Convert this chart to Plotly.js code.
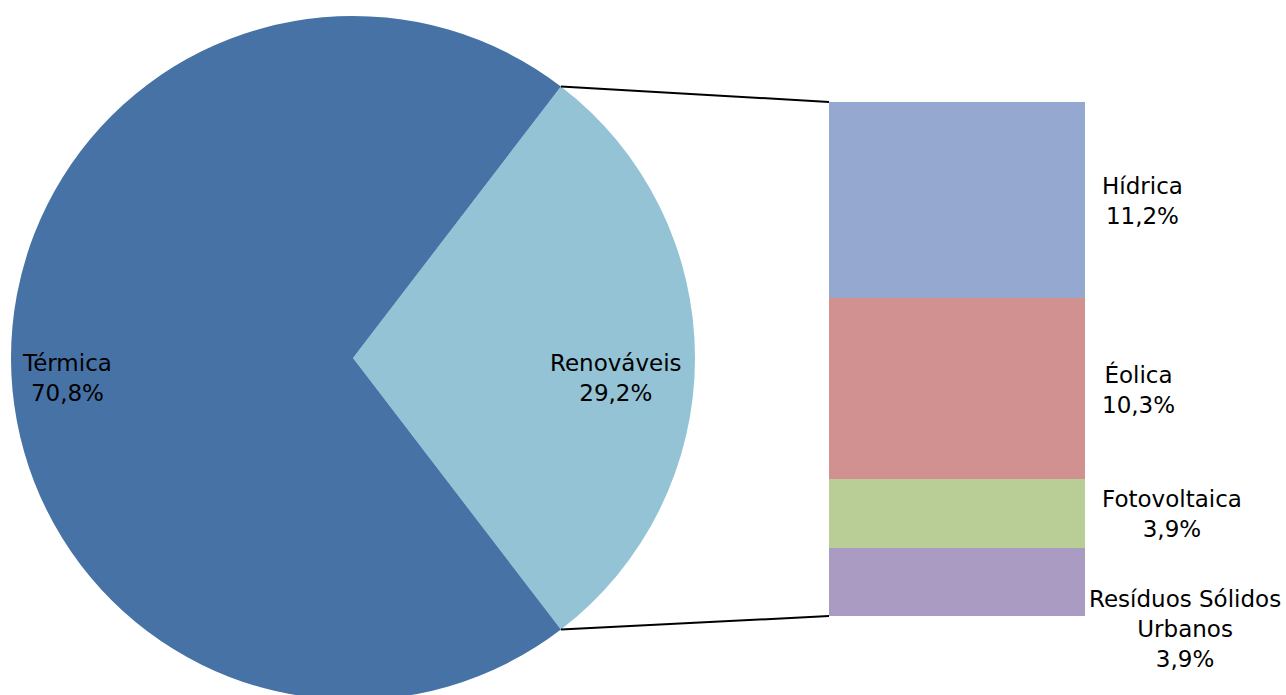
<!DOCTYPE html>
<html><head><meta charset="utf-8">
<script src="https://cdn.plot.ly/plotly-3.0.1.min.js"></script>
<style>html,body{margin:0;padding:0;overflow:hidden;background:#fff;}#chart{width:1286px;height:700px;}</style>
</head><body><div id="chart"></div>
<script>
// Data
const pieLabels = ['Renováveis', 'Térmica'];
const pieValues = [29.2, 70.8];
const pieColors = ['#93C3D5', '#4672A6'];
const pieText = ['Renováveis<br>29,2%', 'Térmica<br>70,8%'];

const barLabels = ['Resíduos Sólidos Urbanos', 'Fotovoltaica', 'Éolica', 'Hídrica']; // bottom to top
const barValues = [3.9, 3.9, 10.3, 11.2];
const barColors = ['#A99BC1', '#B9CD96', '#D19191', '#95A9D0'];
const barText = ['Resíduos Sólidos<br>Urbanos<br>3,9%', 'Fotovoltaica<br>3,9%', 'Éolica<br>10,3%', 'Hídrica<br>11,2%'];

// Layout geometry
const W = 1286, H = 700, T = 16;
const plotH = H - T;
const pieX0 = 11, pieX1 = 695;
const cx = (pieX0 + pieX1) / 2, cy = T + plotH / 2, r = (pieX1 - pieX0) / 2;
const barX0 = 829, barX1 = 1085, barTop = 102, barBot = 616;
const FONT = 'DejaVu Sans, Verdana, sans-serif';
const FS = 23;

const px2x = p => p / W;
const px2y = p => (H - p) / plotH;

const pieTotal = pieValues.reduce((a, b) => a + b, 0);
const half = 180 * pieValues[0] / pieTotal; // half angle of Renováveis slice
const barTotal = barValues.reduce((a, b) => a + b, 0);

const traces = [{
  type: 'pie', labels: pieLabels, values: pieValues, sort: false,
  direction: 'clockwise', rotation: 90 - half,
  marker: {colors: pieColors, line: {width: 0}},
  textinfo: 'none', hoverinfo: 'label+percent', showlegend: false,
  domain: {x: [px2x(pieX0), px2x(pieX1)], y: [0, 1]}
}];
barLabels.forEach((l, i) => traces.push({
  type: 'bar', x: [0], y: [barValues[i]], name: l, width: 1,
  marker: {color: barColors[i], line: {width: 0}}, showlegend: false,
  xaxis: 'x', yaxis: 'y', hoverinfo: 'name+y'
}));

// connector lines computed from the pie geometry and the bar extent
const a = half * Math.PI / 180;
const pTop = [cx + r * Math.cos(a), cy - r * Math.sin(a)];
const pBot = [cx + r * Math.cos(a), cy + r * Math.sin(a)];
const shapes = [
  {type: 'line', xref: 'paper', yref: 'paper', x0: px2x(pTop[0]), y0: px2y(pTop[1]), x1: px2x(barX0), y1: px2y(barTop), line: {color: '#000', width: 2}},
  {type: 'line', xref: 'paper', yref: 'paper', x0: px2x(pBot[0]), y0: px2y(pBot[1]), x1: px2x(barX0), y1: px2y(barBot), line: {color: '#000', width: 2}}
];

const font = {family: FONT, size: FS, color: '#000'};
const annotations = [];
// pie labels
annotations.push({text: pieText[1], x: px2x(cx - 0.835 * r), y: px2y(cy + 20), xref: 'paper', yref: 'paper',
  xanchor: 'center', yanchor: 'middle', align: 'center', showarrow: false, font: font});
annotations.push({text: pieText[0], x: px2x(cx + 0.77 * r), y: px2y(cy + 20), xref: 'paper', yref: 'paper',
  xanchor: 'center', yanchor: 'middle', align: 'center', showarrow: false, font: font});
// bar labels at segment midpoints
let cum = 0;
barValues.forEach((v, i) => {
  const mid = cum + v / 2; cum += v;
  const long = barText[i].split('<br>').length > 2;
  annotations.push({
    text: barText[i], xref: 'paper', yref: 'y', y: mid,
    x: long ? px2x(1283) : px2x(1100), xanchor: long ? 'right' : 'left',
    yanchor: long ? 'top' : 'middle', yshift: long ? -2 : -1,
    align: 'center', showarrow: false, font: font
  });
});

const layout = {
  width: W, height: H, margin: {l: 0, r: 0, t: T, b: 0, pad: 0},
  paper_bgcolor: '#fff', plot_bgcolor: 'rgba(0,0,0,0)',
  barmode: 'stack', bargap: 0,
  xaxis: {domain: [px2x(barX0), px2x(barX1)], range: [-0.5, 0.5], visible: false, fixedrange: true},
  yaxis: {domain: [px2y(barBot), px2y(barTop)], range: [0, barTotal], visible: false, fixedrange: true},
  shapes: shapes, annotations: annotations,
  font: font
};
Plotly.newPlot('chart', traces, layout, {displayModeBar: false, staticPlot: true});
</script></body></html>
